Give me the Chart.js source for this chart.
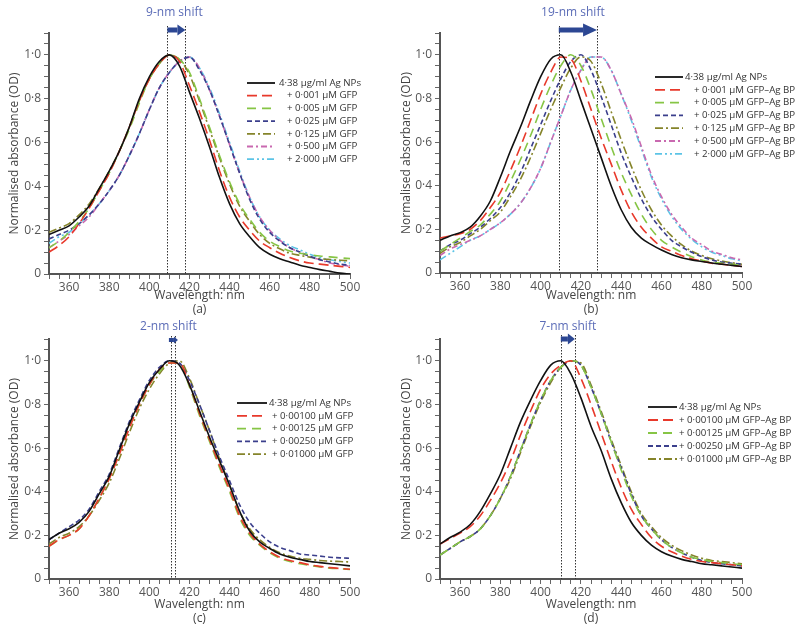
<!DOCTYPE html>
<html>
<head>
<meta charset="utf-8">
<script src="https://cdn.jsdelivr.net/npm/chart.js@4.4.1/dist/chart.umd.min.js"></script>
<style>
html, body { margin: 0; padding: 0; background: #fff; }
#wrap { position: relative; width: 800px; height: 632px; overflow: hidden; }
canvas { position: absolute; }
</style>
</head>
<body>
<div id="wrap">
  <canvas id="ca" width="400" height="316" style="left:0;top:0"></canvas>
  <canvas id="cb" width="400" height="316" style="left:400px;top:0"></canvas>
  <canvas id="cc" width="400" height="316" style="left:0;top:316px"></canvas>
  <canvas id="cd" width="400" height="316" style="left:400px;top:316px"></canvas>
</div>
<script>
// wavelength grid (nm)
const wavelengths = [350, 355, 360, 365, 370, 375, 380, 385, 390, 395, 400, 405, 410, 415, 420,
  425, 430, 435, 440, 445, 450, 455, 460, 465, 470, 475, 480, 485, 490, 495, 500];

// (a) Ag NPs + GFP
const aBlack = [0.18, 0.20, 0.22, 0.26, 0.31, 0.39, 0.47, 0.56, 0.67, 0.80, 0.90, 0.97, 1.00, 0.95, 0.83, 0.71, 0.58, 0.44, 0.32, 0.23, 0.17, 0.12, 0.09, 0.07, 0.055, 0.04, 0.03, 0.02, 0.012, 0.004, 0.0];
const aRed = [0.10, 0.13, 0.17, 0.23, 0.30, 0.38, 0.46, 0.56, 0.67, 0.79, 0.89, 0.96, 1.00, 0.97, 0.86, 0.74, 0.61, 0.47, 0.35, 0.26, 0.20, 0.15, 0.12, 0.095, 0.075, 0.06, 0.05, 0.045, 0.04, 0.035, 0.03];
const aGreen = [0.12, 0.15, 0.19, 0.24, 0.30, 0.38, 0.46, 0.56, 0.66, 0.78, 0.89, 0.96, 1.00, 0.98, 0.92, 0.80, 0.67, 0.54, 0.42, 0.32, 0.25, 0.19, 0.15, 0.125, 0.105, 0.095, 0.088, 0.082, 0.078, 0.074, 0.07];
const aNavy = [0.16, 0.18, 0.20, 0.23, 0.27, 0.32, 0.38, 0.45, 0.54, 0.64, 0.75, 0.85, 0.92, 0.97, 0.99, 0.93, 0.84, 0.72, 0.59, 0.46, 0.34, 0.25, 0.19, 0.15, 0.12, 0.10, 0.08, 0.065, 0.055, 0.045, 0.04];
const aOlive = [0.19, 0.21, 0.23, 0.27, 0.32, 0.39, 0.47, 0.56, 0.67, 0.79, 0.89, 0.96, 1.00, 0.98, 0.91, 0.79, 0.66, 0.53, 0.41, 0.31, 0.24, 0.18, 0.14, 0.115, 0.095, 0.085, 0.077, 0.07, 0.066, 0.063, 0.06];
const aPink = [0.12, 0.15, 0.18, 0.22, 0.26, 0.32, 0.38, 0.45, 0.54, 0.64, 0.75, 0.85, 0.92, 0.97, 0.99, 0.94, 0.84, 0.72, 0.59, 0.46, 0.35, 0.26, 0.20, 0.155, 0.12, 0.10, 0.08, 0.065, 0.05, 0.042, 0.035];
const aCyan = [0.14, 0.17, 0.19, 0.23, 0.27, 0.32, 0.38, 0.45, 0.54, 0.64, 0.75, 0.85, 0.92, 0.97, 0.99, 0.94, 0.85, 0.73, 0.60, 0.47, 0.35, 0.26, 0.20, 0.16, 0.13, 0.11, 0.09, 0.075, 0.065, 0.057, 0.05];
const aLabels = ['4·38 µg/ml Ag NPs', '+ 0·001 µM GFP', '+ 0·005 µM GFP', '+ 0·025 µM GFP', '+ 0·125 µM GFP', '+ 0·500 µM GFP', '+ 2·000 µM GFP'];
const aShift = [409, 418];

// (b) Ag NPs + GFP–Ag BP
const bBlack = [0.15, 0.17, 0.185, 0.21, 0.26, 0.33, 0.44, 0.56, 0.67, 0.79, 0.90, 0.98, 1.00, 0.92, 0.79, 0.66, 0.53, 0.40, 0.29, 0.21, 0.16, 0.13, 0.105, 0.085, 0.07, 0.06, 0.053, 0.046, 0.04, 0.035, 0.03];
const bRed = [0.16, 0.17, 0.18, 0.20, 0.24, 0.30, 0.37, 0.47, 0.58, 0.70, 0.82, 0.92, 0.99, 0.98, 0.88, 0.75, 0.62, 0.50, 0.38, 0.28, 0.21, 0.16, 0.12, 0.10, 0.08, 0.065, 0.055, 0.045, 0.04, 0.035, 0.03];
const bGreen = [0.10, 0.13, 0.16, 0.19, 0.22, 0.27, 0.33, 0.42, 0.52, 0.63, 0.75, 0.86, 0.95, 1.00, 0.95, 0.84, 0.71, 0.58, 0.46, 0.36, 0.27, 0.20, 0.15, 0.12, 0.095, 0.075, 0.06, 0.05, 0.045, 0.04, 0.035];
const bNavy = [0.10, 0.13, 0.15, 0.18, 0.21, 0.25, 0.30, 0.37, 0.46, 0.57, 0.68, 0.79, 0.89, 0.97, 1.00, 0.93, 0.81, 0.68, 0.55, 0.44, 0.34, 0.26, 0.20, 0.15, 0.12, 0.095, 0.075, 0.06, 0.05, 0.045, 0.04];
const bOlive = [0.09, 0.12, 0.14, 0.17, 0.20, 0.24, 0.28, 0.35, 0.43, 0.53, 0.64, 0.75, 0.85, 0.94, 0.99, 0.97, 0.87, 0.74, 0.61, 0.49, 0.38, 0.29, 0.22, 0.17, 0.13, 0.10, 0.08, 0.065, 0.055, 0.047, 0.04];
const bPink = [0.08, 0.11, 0.13, 0.15, 0.17, 0.20, 0.23, 0.27, 0.32, 0.39, 0.48, 0.60, 0.72, 0.84, 0.93, 0.99, 0.99, 0.93, 0.82, 0.71, 0.58, 0.45, 0.35, 0.27, 0.21, 0.16, 0.13, 0.10, 0.085, 0.07, 0.06];
const bCyan = [0.06, 0.09, 0.12, 0.15, 0.17, 0.20, 0.23, 0.27, 0.32, 0.39, 0.48, 0.60, 0.72, 0.84, 0.93, 0.99, 0.99, 0.93, 0.82, 0.70, 0.57, 0.44, 0.34, 0.26, 0.20, 0.155, 0.12, 0.095, 0.08, 0.065, 0.055];
const bLabels = ['4·38 µg/ml Ag NPs', '+ 0·001 µM GFP–Ag BP', '+ 0·005 µM GFP–Ag BP', '+ 0·025 µM GFP–Ag BP', '+ 0·125 µM GFP–Ag BP', '+ 0·500 µM GFP–Ag BP', '+ 2·000 µM GFP–Ag BP'];
const bShift = [409, 428];

// (c) low GFP concentrations
const cBlack = [0.18, 0.21, 0.23, 0.26, 0.31, 0.39, 0.47, 0.59, 0.71, 0.81, 0.90, 0.96, 1.00, 0.98, 0.89, 0.77, 0.65, 0.54, 0.43, 0.31, 0.22, 0.17, 0.14, 0.115, 0.10, 0.09, 0.08, 0.075, 0.07, 0.065, 0.06];
const cRed = [0.15, 0.18, 0.20, 0.23, 0.29, 0.37, 0.46, 0.57, 0.69, 0.80, 0.89, 0.96, 0.99, 0.99, 0.89, 0.76, 0.64, 0.52, 0.41, 0.29, 0.21, 0.16, 0.125, 0.10, 0.085, 0.075, 0.065, 0.058, 0.052, 0.048, 0.045];
const cGreen = [0.15, 0.18, 0.20, 0.23, 0.29, 0.37, 0.46, 0.58, 0.70, 0.80, 0.89, 0.95, 0.99, 0.99, 0.88, 0.75, 0.63, 0.51, 0.40, 0.28, 0.20, 0.155, 0.12, 0.095, 0.08, 0.07, 0.062, 0.055, 0.05, 0.047, 0.044];
const cNavy = [0.18, 0.21, 0.24, 0.27, 0.32, 0.40, 0.48, 0.60, 0.72, 0.82, 0.91, 0.97, 1.00, 0.99, 0.91, 0.80, 0.68, 0.56, 0.45, 0.34, 0.26, 0.21, 0.17, 0.145, 0.13, 0.115, 0.11, 0.105, 0.10, 0.097, 0.095];
const cOlive = [0.16, 0.19, 0.21, 0.24, 0.29, 0.36, 0.44, 0.55, 0.67, 0.78, 0.87, 0.94, 0.99, 1.00, 0.92, 0.80, 0.68, 0.55, 0.43, 0.31, 0.23, 0.18, 0.145, 0.12, 0.105, 0.095, 0.09, 0.085, 0.082, 0.08, 0.078];
const cLabels = ['4·38 µg/ml Ag NPs', '+ 0·00100 µM GFP', '+ 0·00125 µM GFP', '+ 0·00250 µM GFP', '+ 0·01000 µM GFP'];
const cShift = [411, 413];

// (d) low GFP–Ag BP concentrations
const dBlack = [0.16, 0.19, 0.215, 0.25, 0.31, 0.39, 0.48, 0.60, 0.72, 0.82, 0.91, 0.98, 1.00, 0.94, 0.83, 0.70, 0.59, 0.46, 0.35, 0.26, 0.20, 0.155, 0.125, 0.105, 0.09, 0.08, 0.07, 0.065, 0.06, 0.055, 0.05];
const dRed = [0.16, 0.185, 0.21, 0.24, 0.29, 0.36, 0.44, 0.54, 0.66, 0.77, 0.87, 0.94, 0.98, 1.00, 0.92, 0.80, 0.67, 0.54, 0.42, 0.32, 0.25, 0.19, 0.15, 0.125, 0.105, 0.09, 0.08, 0.075, 0.07, 0.065, 0.06];
const dGreen = [0.11, 0.14, 0.17, 0.195, 0.23, 0.29, 0.37, 0.47, 0.59, 0.71, 0.82, 0.91, 0.97, 1.00, 0.98, 0.88, 0.76, 0.63, 0.50, 0.38, 0.29, 0.23, 0.18, 0.145, 0.12, 0.10, 0.09, 0.08, 0.075, 0.07, 0.065];
const dNavy = [0.11, 0.14, 0.17, 0.195, 0.23, 0.29, 0.37, 0.47, 0.59, 0.71, 0.82, 0.91, 0.97, 1.00, 0.98, 0.88, 0.76, 0.63, 0.51, 0.39, 0.29, 0.23, 0.18, 0.145, 0.12, 0.10, 0.085, 0.075, 0.07, 0.065, 0.06];
const dOlive = [0.11, 0.14, 0.17, 0.195, 0.23, 0.29, 0.37, 0.46, 0.58, 0.70, 0.81, 0.90, 0.97, 1.00, 0.99, 0.89, 0.77, 0.64, 0.52, 0.40, 0.30, 0.24, 0.19, 0.155, 0.13, 0.11, 0.095, 0.085, 0.08, 0.075, 0.07];
const dLabels = ['4·38 µg/ml Ag NPs', '+ 0·00100 µM GFP–Ag BP', '+ 0·00125 µM GFP–Ag BP', '+ 0·00250 µM GFP–Ag BP', '+ 0·01000 µM GFP–Ag BP'];
const dShift = [410, 417];

// line styles, same order in every panel
const seriesStyles = [
  { color: '#111111', dash: [] },
  { color: '#e8392b', dash: [10, 5] },
  { color: '#86c545', dash: [9, 6] },
  { color: '#3b3f8c', dash: [5, 3] },
  { color: '#85842a', dash: [8, 3, 2, 3] },
  { color: '#c969b0', dash: [6, 3, 2, 3] },
  { color: '#5cc4e6', dash: [7, 3, 2, 3, 2, 3] },
];

Chart.defaults.font.family = '"Open Sans", sans-serif';

const fmtY = v => {
  const r = Math.round(v * 100);
  if (r % 20 !== 0) return '';
  return r === 0 ? '0' : (r / 100).toFixed(1).replace('.', '·');
};

// dotted shift lines, arrow, shift label and legend
const annotate = {
  id: 'annotate',
  beforeDatasetsDraw(chart, args, o) {
    const { ctx, chartArea, scales: { x } } = chart;
    ctx.save();
    ctx.strokeStyle = '#333';
    ctx.lineWidth = 1;
    ctx.setLineDash([1.5, 1.5]);
    o.shift.forEach(v => {
      const px = Math.round(x.getPixelForValue(v)) + 0.5;
      ctx.beginPath();
      ctx.moveTo(px, o.arrowY - 4);
      ctx.lineTo(px, chartArea.bottom);
      ctx.stroke();
    });
    ctx.restore();
  },
  afterDatasetsDraw(chart, args, o) {
    const { ctx, scales: { x } } = chart;
    const x1 = x.getPixelForValue(o.shift[0]), x2 = x.getPixelForValue(o.shift[1]);
    const mid = (x1 + x2) / 2, half = Math.max((x2 - x1) / 2, o.minHalf || 0);
    const a0 = mid - half, a1 = mid + half;
    ctx.save();
    ctx.fillStyle = '#2c4793';
    ctx.fillRect(a0, o.arrowY - o.shaftH / 2, a1 - o.headL - a0, o.shaftH);
    ctx.beginPath();
    ctx.moveTo(a1 - o.headL, o.arrowY - o.headH / 2);
    ctx.lineTo(a1, o.arrowY);
    ctx.lineTo(a1 - o.headL, o.arrowY + o.headH / 2);
    ctx.closePath();
    ctx.fill();

    ctx.fillStyle = '#5b6cb7';
    ctx.font = '12px "Open Sans"';
    ctx.textAlign = 'center';
    ctx.textBaseline = 'middle';
    ctx.fillText(o.title, mid + o.titleDx, o.titleY);

    const lg = o.legend;
    ctx.font = '9.7px "Open Sans"';
    ctx.textAlign = 'left';
    chart.data.datasets.forEach((ds, i) => {
      const y = lg.y0 + i * lg.dy;
      ctx.strokeStyle = ds.borderColor;
      ctx.lineWidth = 1.8;
      ctx.setLineDash(ds.borderDash);
      ctx.beginPath();
      ctx.moveTo(lg.x1, y);
      ctx.lineTo(lg.x2, y);
      ctx.stroke();
      ctx.fillStyle = '#333';
      ctx.fillText(ds.label, i === 0 ? lg.tx0 : lg.tx, y);
    });
    ctx.restore();
  }
};

const panels = [
  { id: 'ca', series: [aBlack, aRed, aGreen, aNavy, aOlive, aPink, aCyan], labels: aLabels, shift: aShift,
    title: '9-nm shift', tag: '(a)', top: 33, right: 350, yW: 49, xH: 42, padB: 0, yTitlePad: 7,
    arrowY: 30, titleY: 13, titleDx: -2, shaftH: 5, headL: 8, headH: 11, minHalf: 0,
    legend: { x1: 247, x2: 275, tx0: 279, tx: 287, y0: 83, dy: 12.7 } },
  { id: 'cb', series: [bBlack, bRed, bGreen, bNavy, bOlive, bPink, bCyan], labels: bLabels, shift: bShift,
    title: '19-nm shift', tag: '(b)', top: 33, right: 342, yW: 40, xH: 43, padB: 0, yTitlePad: -1,
    arrowY: 30, titleY: 13, titleDx: -5, shaftH: 5, headL: 14, headH: 13, minHalf: 0,
    legend: { x1: 255, x2: 283, tx0: 285, tx: 294, y0: 77, dy: 12.8 } },
  { id: 'cc', series: [cBlack, cRed, cGreen, cNavy, cOlive], labels: cLabels, shift: cShift,
    title: '2-nm shift', tag: '(c)', top: 23, right: 350, yW: 49, xH: 46, padB: 7, yTitlePad: 7,
    arrowY: 24, titleY: 11, titleDx: -5, shaftH: 4, headL: 4, headH: 7, minHalf: 4.5,
    legend: { x1: 237, x2: 267, tx0: 269, tx: 272, y0: 87, dy: 12.8 } },
  { id: 'cd', series: [dBlack, dRed, dGreen, dNavy, dOlive], labels: dLabels, shift: dShift,
    title: '7-nm shift', tag: '(d)', top: 23, right: 342, yW: 40, xH: 46, padB: 7, yTitlePad: -1,
    arrowY: 23, titleY: 11, titleDx: 0, shaftH: 5, headL: 7, headH: 11, minHalf: 0,
    legend: { x1: 248, x2: 277, tx0: 279, tx: 279, y0: 91, dy: 13 } },
];

panels.forEach(p => {
  const datasets = p.series.map((arr, i) => ({
    label: p.labels[i],
    data: wavelengths.map((w, j) => ({ x: w, y: arr[j] })),
    borderColor: seriesStyles[i].color,
    borderDash: seriesStyles[i].dash,
    borderWidth: 1.6,
    pointRadius: 0,
    fill: false,
    cubicInterpolationMode: 'monotone',
  }));
  new Chart(document.getElementById(p.id), {
    type: 'line',
    data: { datasets },
    plugins: [annotate],
    options: {
      responsive: false,
      devicePixelRatio: 1,
      animation: false,
      events: [],
      layout: { padding: { left: 0, top: p.top, right: 400 - p.right, bottom: p.padB } },
      plugins: {
        legend: { display: false },
        tooltip: { enabled: false },
        annotate: p,
      },
      scales: {
        x: {
          type: 'linear', min: 350, max: 500,
          afterFit: s => { s.height = p.xH; },
          border: { display: true, color: '#555', width: 2 },
          grid: { drawOnChartArea: false, drawTicks: true, tickLength: 5, color: '#666' },
          ticks: {
            stepSize: 5, autoSkip: false, maxRotation: 0, padding: 1,
            color: '#555', font: { size: 12 },
            callback: v => (v % 20 === 0 ? String(v) : ''),
          },
          title: {
            display: true, text: ['Wavelength: nm', p.tag], color: '#444',
            font: { size: 12, lineHeight: 1.12 }, padding: { top: 0, bottom: 0 },
          },
        },
        y: {
          min: 0, max: 1.1,
          afterFit: s => { s.width = p.yW; },
          border: { display: true, color: '#555', width: 2 },
          grid: { drawOnChartArea: false, drawTicks: true, tickLength: 5, color: '#666' },
          ticks: { stepSize: 0.05, autoSkip: false, padding: 3, color: '#555', font: { size: 12 }, callback: fmtY },
          title: {
            display: true, text: 'Normalised absorbance (OD)', color: '#444',
            font: { size: 12 }, padding: { top: p.yTitlePad, bottom: 0 },
          },
        },
      },
    },
  });
});
</script>
</body>
</html>
